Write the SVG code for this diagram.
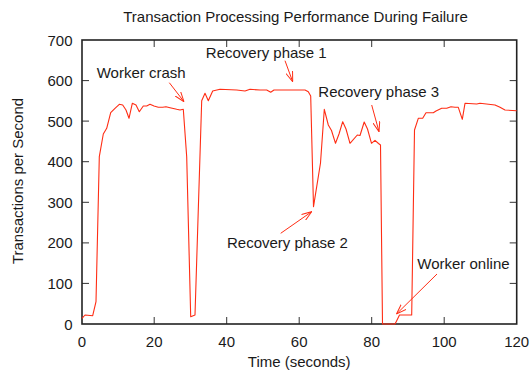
<svg xmlns="http://www.w3.org/2000/svg" width="532" height="370" viewBox="0 0 532 370">
<style>
text{font-family:"Liberation Sans",Arial,Helvetica,sans-serif;font-size:15px;fill:#1a1a1a}
.yl{text-anchor:end}
.xl{text-anchor:middle}
.tick{stroke:#333;stroke-width:1;fill:none}
.frame{stroke:#222;stroke-width:1.6;fill:none}
.data{stroke:#ff2d14;stroke-width:1.1;fill:none;stroke-linejoin:round}
.ann{stroke:#ff2d14;stroke-width:1;fill:none}
</style>
<defs>
<marker id="ah" viewBox="0 0 10 8" refX="10" refY="4" markerWidth="10" markerHeight="8" markerUnits="userSpaceOnUse" orient="auto">
<path d="M0,0.5 L10,4 L0,7.5" fill="none" stroke="#ff2d14" stroke-width="1"/>
</marker>
</defs>
<rect width="532" height="370" fill="#fff"/>
<text x="295.5" y="22" class="xl">Transaction Processing Performance During Failure</text>
<g id="ticks" class="tick">
<path d="M82,283.4h7M82,242.9h7M82,202.3h7M82,161.7h7M82,121.1h7M82,80.6h7"/>
<path d="M516.7,283.4h-7M516.7,242.9h-7M516.7,202.3h-7M516.7,161.7h-7M516.7,121.1h-7M516.7,80.6h-7"/>
<path d="M154.2,324v-7M226.7,324v-7M299.2,324v-7M371.7,324v-7M444.2,324v-7"/>
<path d="M154.2,40v7M226.7,40v7M299.2,40v7M371.7,40v7M444.2,40v7"/>
</g>
<rect id="frame" class="frame" x="82" y="40" width="434.7" height="284"/>
<g id="ylabels">
<text class="yl" x="72.5" y="329.5">0</text>
<text class="yl" x="72.5" y="288.9">100</text>
<text class="yl" x="72.5" y="248.4">200</text>
<text class="yl" x="72.5" y="207.8">300</text>
<text class="yl" x="72.5" y="167.2">400</text>
<text class="yl" x="72.5" y="126.6">500</text>
<text class="yl" x="72.5" y="86.1">600</text>
<text class="yl" x="72.5" y="45.5">700</text>
</g>
<g id="xlabels">
<text class="xl" x="82" y="346.5">0</text>
<text class="xl" x="154.2" y="346.5">20</text>
<text class="xl" x="226.7" y="346.5">40</text>
<text class="xl" x="299.2" y="346.5">60</text>
<text class="xl" x="371.7" y="346.5">80</text>
<text class="xl" x="444.2" y="346.5">100</text>
<text class="xl" x="516.7" y="346.5">120</text>
</g>
<text class="xl" x="299.2" y="366.5">Time (seconds)</text>
<text class="xl" transform="translate(23,181) rotate(-90)">Transactions per Second</text>
<g id="series">
<polyline class="data" points="82,318.3 85,315 92.7,315.7 96,301.7 99.3,156.7 103.3,134 106.7,128.3 110.7,112.7 115,108.3 119.3,104.3 122.7,105 126,110 129,118.3 132.3,103.3 136,105 139.3,111.7 143.3,106 146.7,106 150,104.3 154,106 158.3,107.3 162.7,107.3 166,106.7 170,107.7 176.7,109.3 180,110 183.3,109.3 186.7,156.7 190.7,316.7 195,315 201.7,100.7 205,93.3 208.3,100.7 212.7,91 220,89.3 236.7,90 245,91 250,89.3 260,90 266.7,90 270.7,92.3 274,90 293.3,90 305,90 308.3,91.7 310.7,96 313.5,206.7 320.5,163 324.3,109.3 328.3,125 331.5,130.5 335.5,143.3 339,134 342.7,121.7 346,129 350,143.3 357.3,135 360,135.5 364.2,122 367.5,129 371.5,143.3 375,140.3 378.5,143.5 380.5,145 382.5,324 395,324 396.7,320.7 399.5,315 411.7,315 414.5,130 418.3,118.3 422.7,118.3 426,112.7 433.3,112.7 436,111 441.7,108.3 446.7,108.3 451,106.7 455,107.3 458.3,107.3 462.3,119.3 465,103.3 476.7,104 480,103.3 495,105 500,107.3 505,110 516.7,110.7"/>
</g>
<g id="annotations">
<g id="worker-crash">
<text x="96.7" y="78.3">Worker crash</text>
<line class="ann" x1="169.3" y1="82.7" x2="184" y2="101.7" marker-end="url(#ah)"/>
</g>
<g id="recovery-phase-1">
<text x="205.8" y="57.5">Recovery phase 1</text>
<line class="ann" x1="285" y1="60.7" x2="292.7" y2="81.7" marker-end="url(#ah)"/>
</g>
<g id="recovery-phase-3">
<text x="318.3" y="96.5">Recovery phase 3</text>
<line class="ann" x1="371.7" y1="105" x2="379" y2="131.7" marker-end="url(#ah)"/>
</g>
<g id="recovery-phase-2">
<text x="227" y="248">Recovery phase 2</text>
<line class="ann" x1="280.7" y1="233.3" x2="311.7" y2="211.7" marker-end="url(#ah)"/>
</g>
<g id="worker-online">
<text x="417.3" y="269">Worker online</text>
<line class="ann" x1="437" y1="274" x2="396.5" y2="314" marker-end="url(#ah)"/>
</g>
</g>
</svg>
